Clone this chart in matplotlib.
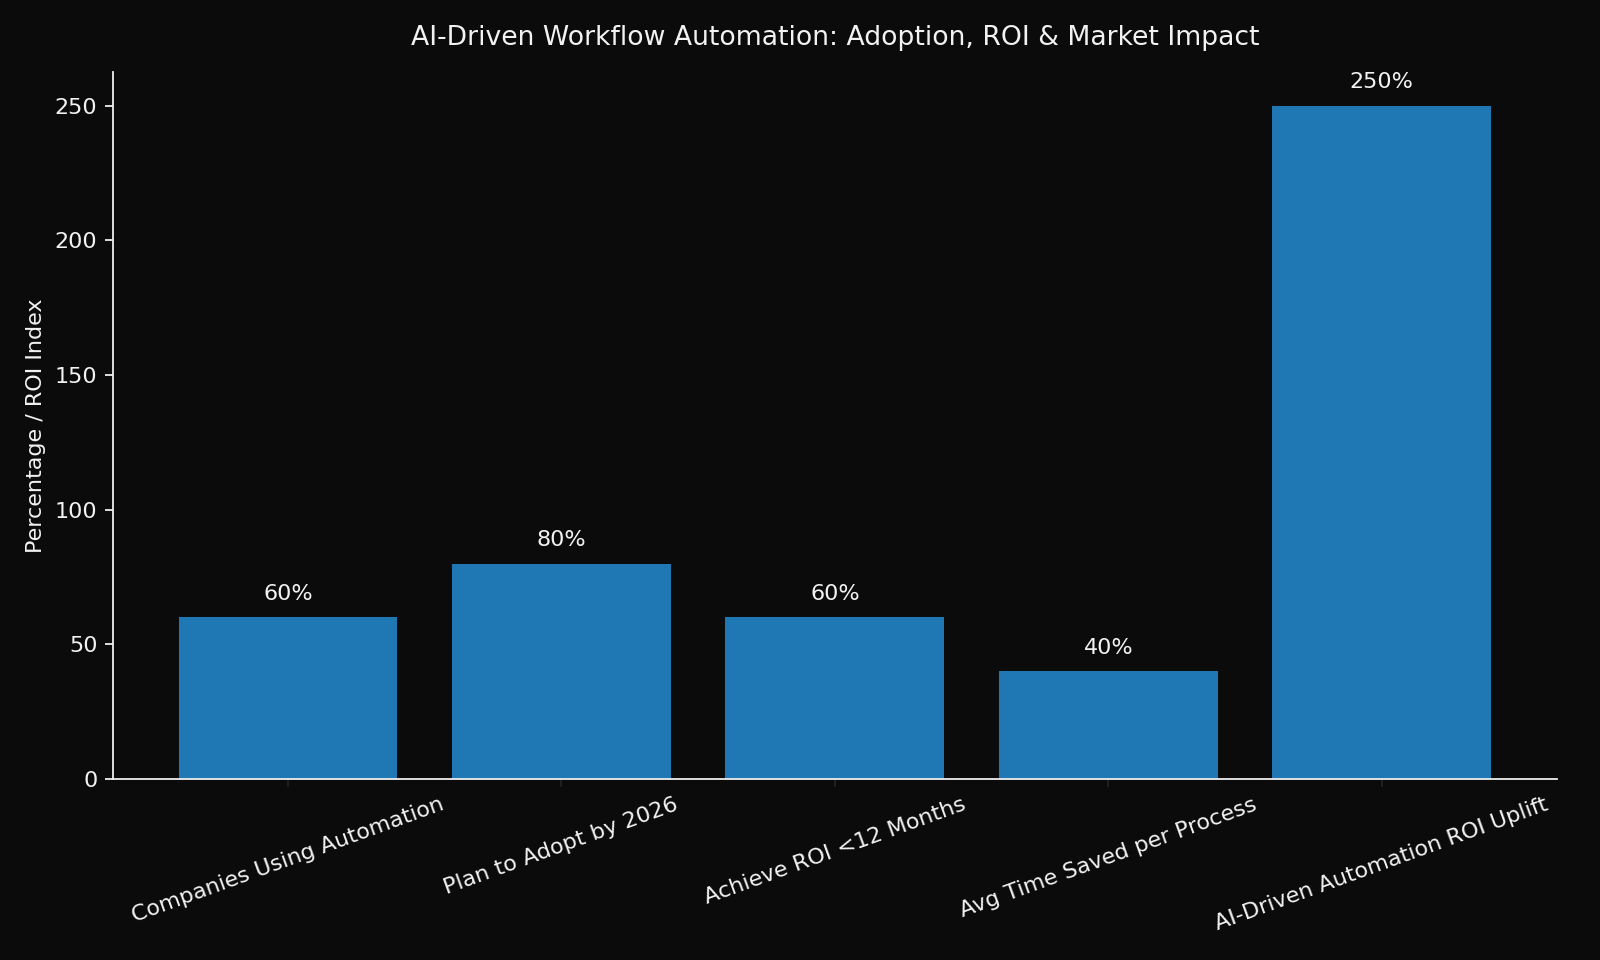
import matplotlib
matplotlib.use("Agg")
import matplotlib.pyplot as plt

categories = [
    "Companies Using Automation",
    "Plan to Adopt by 2026",
    "Achieve ROI <12 Months",
    "Avg Time Saved per Process",
    "AI-Driven Automation ROI Uplift",
]
values = [60, 80, 60, 40, 250]
labels = ["60%", "80%", "60%", "40%", "250%"]

bg = "#0b0b0b"
fg = "#f2f2f2"

fig = plt.figure(figsize=(10, 6), dpi=160, facecolor=bg)
ax = fig.add_axes([0.0706, 0.1885, 0.9024, 0.7365])
ax.set_facecolor(bg)

x = list(range(len(categories)))
bars = ax.bar(x, values, width=0.8, color="#1f77b4")
for xi, v, lab in zip(x, values, labels):
    ax.text(xi, v + 5, lab, ha="center", va="bottom", color=fg, fontsize=10)

ax.set_xticks(x)
ax.set_xticklabels(categories, rotation=20, ha="center", color=fg, fontsize=10)
ax.tick_params(axis="x", colors="#222222", labelcolor=fg)
ax.tick_params(axis="y", colors=fg, labelcolor=fg, labelsize=10)
ax.set_ylabel("Percentage / ROI Index", color=fg, fontsize=10)
ax.set_title("AI-Driven Workflow Automation: Adoption, ROI & Market Impact",
             color=fg, fontsize=12, pad=12)

for s in ["top", "right"]:
    ax.spines[s].set_visible(False)
for s in ["left", "bottom"]:
    ax.spines[s].set_color(fg)

fig.savefig("out.png", dpi=160, facecolor=bg)
